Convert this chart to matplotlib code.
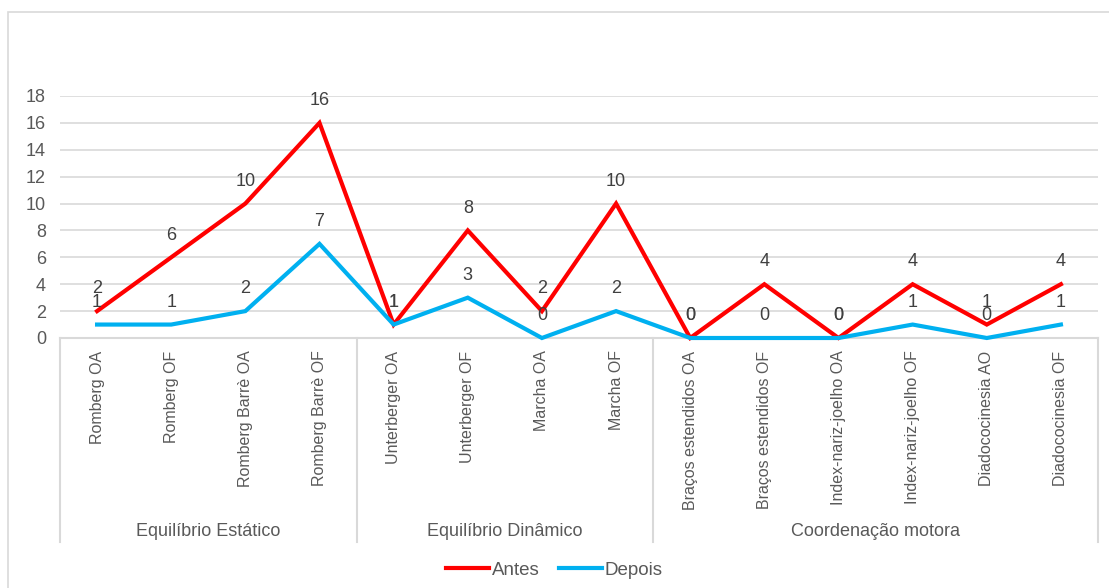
import numpy as np
import matplotlib
matplotlib.use('Agg')
from matplotlib import pyplot as plt
from matplotlib.patches import Rectangle
import matplotlib.transforms as mtrans

plt.rcParams['font.family'] = ['Liberation Sans', 'DejaVu Sans']

categories = ['Romberg OA', 'Romberg OF', 'Romberg Barrè OA', 'Romberg Barrè OF',
              'Unterberger OA', 'Unterberger OF', 'Marcha OA', 'Marcha OF',
              'Braços estendidos OA', 'Braços estendidos OF',
              'Index-nariz-joelho OA', 'Index-nariz-joelho OF',
              'Diadococinesia AO', 'Diadococinesia OF']
groups = ['Equilíbrio Estático', 'Equilíbrio Dinâmico', 'Coordenação motora']
group_sizes = [4, 4, 6]
antes = [2, 6, 10, 16, 1, 8, 2, 10, 0, 4, 0, 4, 1, 4]
depois = [1, 1, 2, 7, 1, 3, 0, 2, 0, 0, 0, 1, 0, 1]
yticks = [0, 2, 4, 6, 8, 10, 12, 14, 16, 18]

W, H = 1109, 588
txt = '#595959'
grid = '#d9d9d9'

fig = plt.figure(figsize=(W / 100, H / 100), dpi=100)

# outer chart frame (runs off the right and bottom edges)
fig.patches.append(Rectangle((8 / W, -0.1), 1.2, (H - 12) / H + 0.1,
                             transform=fig.transFigure, fill=False,
                             edgecolor=grid, lw=1.2))

ax = fig.add_axes([60 / W, (H - 338) / H, (1098 - 60) / W, (338 - 96) / H])
x = np.arange(len(categories))

ax.plot(x, antes, color='#ff0000', lw=3, solid_joinstyle='miter', zorder=3, clip_on=False)
ax.plot(x, depois, color='#00b0f0', lw=3, solid_joinstyle='miter', zorder=3, clip_on=False)

for xi, v in zip(x, antes):
    ax.annotate(str(v), (xi, v), xytext=(0, 16), textcoords='offset points',
                ha='center', va='center', fontsize=13, color='#404040')
for xi, v in zip(x, depois):
    ax.annotate(str(v), (xi, v), xytext=(0, 16), textcoords='offset points',
                ha='center', va='center', fontsize=13, color='#404040')

ax.set_xlim(-0.5, len(categories) - 0.5)
ax.set_ylim(0, 18)
ax.set_yticks(yticks)
ax.set_yticklabels([str(t) for t in yticks], fontsize=13, color=txt)
ax.tick_params(axis='y', length=0, pad=10)
ax.yaxis.grid(True, color=grid, lw=1.2)
ax.set_axisbelow(True)
for s in ax.spines.values():
    s.set_visible(False)

ax.set_xticks(x)
ax.set_xticklabels(categories, rotation=90, fontsize=11.5, color=txt, va='top')
ax.tick_params(axis='x', length=0, pad=9)

# category axis line and group boxes
blend = mtrans.blended_transform_factory(ax.transData, ax.transAxes)
ax.plot([-0.5, len(categories) - 0.5], [0, 0], color=grid, lw=1.5, transform=blend,
        clip_on=False, zorder=1)
bounds = np.concatenate([[0], np.cumsum(group_sizes)]) - 0.5
for b in bounds:
    ax.plot([b, b], [0, -0.845], color=grid, lw=1.5, transform=blend, clip_on=False)
for g, lo, hi in zip(groups, bounds[:-1], bounds[1:]):
    ax.text((lo + hi) / 2, -0.8, g, transform=blend, ha='center', va='center',
            fontsize=13, color=txt)

handles = ax.get_lines()[:2]
fig.legend(handles, ['Antes', 'Depois'], loc='center', ncol=2,
           bbox_to_anchor=(0.5, (H - 570) / H), frameon=False, fontsize=13.5,
           handlelength=2.3, handletextpad=0.15, columnspacing=1.0,
           labelcolor=txt)

fig.savefig('out.png', dpi=100)
